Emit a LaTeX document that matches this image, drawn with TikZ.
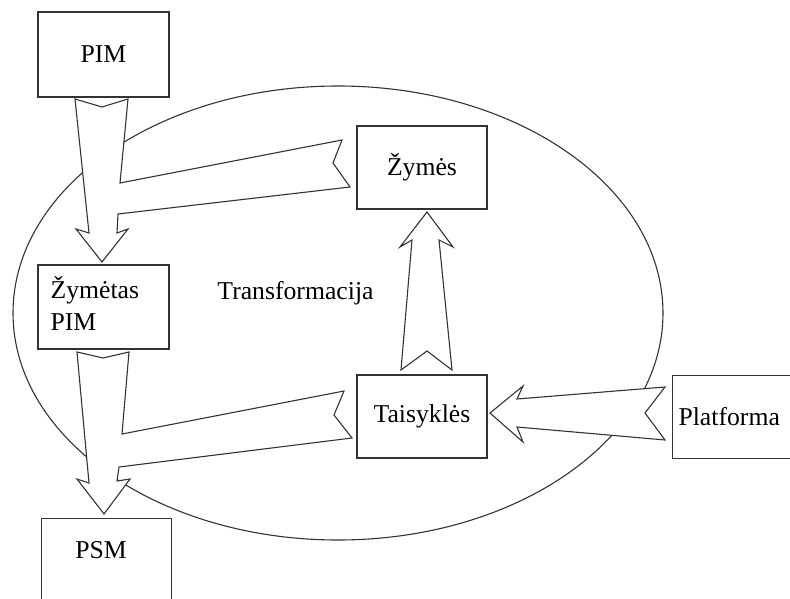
\documentclass[tikz,border=0pt]{standalone}
\usepackage{fontspec}
\setmainfont{Liberation Serif}
\begin{document}
\begin{tikzpicture}[x=1pt,y=-1pt,
  line width=1.1pt, line join=miter,
  every node/.style={font=\fontsize{25.7}{32}\selectfont, inner sep=0pt},
  box/.style={draw=black!80, fill=white, line width=1.1pt},
  blockarrow/.style={draw=black!80, fill=white, line width=1.1pt}]
\useasboundingbox (0,0) rectangle (790,599);
\begin{scope}
\clip (0,0) rectangle (790,599);

% transformation area
\draw[black!80] (338,313) ellipse [x radius=325, y radius=227];
\node (trans) at (295.5,293) {Transformacija};

% boxes
\node[box, minimum width=131pt, minimum height=85pt] (pim) at (103.5,54.5) {PIM};
\node[box, minimum width=130pt, minimum height=83pt] (zymes) at (422,167.5) {Žymės};
\node[box, minimum width=131pt, minimum height=84pt] (zpim) at (103.5,307) {};
\node[anchor=north west, align=left] (zpimtext) at (50,276) {Žymėtas\\PIM};
\node[box, minimum width=130pt, minimum height=83pt] (rules) at (422,416.5) {Taisyklės};
\node[box, minimum width=140pt, minimum height=83pt, anchor=north west] (platf) at (672,375) {};
\node[anchor=west] (platftext) at (678,416.5) {Platforma};
\node[box, minimum width=130pt, minimum height=100pt, anchor=north west] (psm) at (41,518) {};
\node (psmtext) at (101,550) {PSM};

% PIM and Žymės merging into Žymėtas PIM
\draw[blockarrow] (75,99) -- (102,107) -- (128,99) -- (120,183)
  -- (342,140) -- (333,163) -- (350,187) -- (118,214)
  -- (117,233) -- (128,229) -- (102,262) -- (76,229) -- (89,233) -- cycle;

% Žymėtas PIM and Taisyklės merging into PSM
\draw[blockarrow] (77,352) -- (103,358) -- (129,352) -- (122,434)
  -- (344,391) -- (334,415) -- (352,438) -- (119,467)
  -- (117,481) -- (130,479) -- (104,514) -- (77,479) -- (89,483) -- cycle;

% Taisyklės up to Žymės
\draw[blockarrow] (401,370) -- (427,351) -- (452,370) -- (439,240)
  -- (453,247) -- (427,212) -- (400,247) -- (412,240) -- cycle;

% Platforma into Taisyklės
\draw[blockarrow] (665,387) -- (517,399) -- (523,386) -- (490,413)
  -- (523,442) -- (517,427) -- (665,440) -- (645,413) -- cycle;
\end{scope}
\end{tikzpicture}
\end{document}
